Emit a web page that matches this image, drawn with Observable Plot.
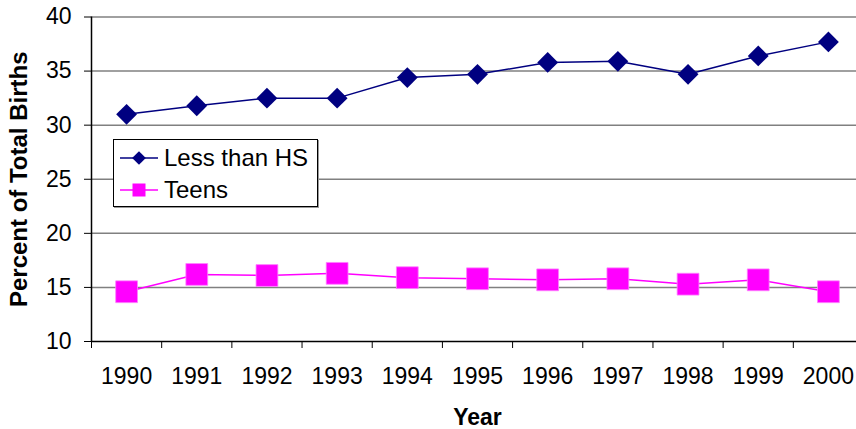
<!DOCTYPE html>
<html>
<head>
<meta charset="utf-8">
<script src="https://cdn.jsdelivr.net/npm/d3@7"></script>
<script src="https://cdn.jsdelivr.net/npm/@observablehq/plot@0.6"></script>
<style>
  html, body { margin: 0; padding: 0; background: #fff; overflow: hidden; }
  #wrap { position: relative; width: 856px; height: 429px; overflow: hidden; }
  #chart svg { max-width: none !important; }
  #legend {
    position: absolute; left: 113px; top: 139px; width: 203px; height: 66px;
    border: 1px solid #000; background: #fff; box-shadow: 1px 1px 0 #999;
    font-family: "Liberation Sans", Arial, sans-serif; font-size: 24px; color: #000;
  }
  .row { display: flex; align-items: center; height: 32px; padding-left: 6px; }
  .row:first-child { margin-top: 2px; }
  .row svg { margin-right: 6px; }
</style>
</head>
<body>
<div id="wrap"><div id="chart"></div><div id="legend"></div></div>
<script>
const years = [1990, 1991, 1992, 1993, 1994, 1995, 1996, 1997, 1998, 1999, 2000];
const lessThanHS = [31.0, 31.8, 32.5, 32.5, 34.4, 34.7, 35.8, 35.9, 34.7, 36.4, 37.7];
const teens = [14.6, 16.2, 16.1, 16.3, 15.9, 15.8, 15.7, 15.8, 15.3, 15.7, 14.6];
const seriesNames = ["Less than HS", "Teens"];
const seriesColors = ["#000080", "#FF00FF"];
const seriesSymbols = ["diamond2", "square"];
const yTicks = [10, 15, 20, 25, 30, 35, 40];
const xEdges = years.map(y => y - 0.5).concat([years[years.length - 1] + 0.5]);

const data = [
  ...years.map((year, i) => ({year, value: lessThanHS[i], series: seriesNames[0]})),
  ...years.map((year, i) => ({year, value: teens[i], series: seriesNames[1]}))
];

const font = "Liberation Sans, Arial, sans-serif";

const chart = Plot.plot({
  width: 864,
  height: 429,
  marginLeft: 91,
  marginRight: 1,
  marginTop: 16.5,
  marginBottom: 88,
  style: {fontFamily: font, fontSize: "23px", color: "#000", background: "#fff", maxWidth: "none"},
  x: {type: "linear", domain: [xEdges[0], xEdges[xEdges.length - 1]]},
  y: {domain: [10, 40]},
  color: {domain: seriesNames, range: seriesColors},
  symbol: {domain: seriesNames, range: seriesSymbols},
  marks: [
    Plot.ruleY(yTicks.slice(1), {stroke: "#808080", strokeWidth: 1.5}),
    Plot.axisY(yTicks, {tickSize: 7, tickPadding: 13, tickFormat: d => String(d), label: null, fontSize: 23, stroke: "#000"}),
    Plot.axisX(xEdges, {tickSize: 7, tickFormat: () => "", label: null, stroke: "#000"}),
    Plot.axisX(years, {tickSize: 0, tickPadding: 26, tickFormat: d => String(d), label: null, fontSize: 23}),
    Plot.ruleY([10], {stroke: "#000", strokeWidth: 1.5}),
    Plot.ruleX([xEdges[0]], {stroke: "#000", strokeWidth: 1.5}),
    Plot.line(data, {x: "year", y: "value", z: "series", stroke: "series", strokeWidth: 1.5}),
    Plot.dot(data.filter(d => d.series === seriesNames[0]), {x: "year", y: "value", symbol: "series", fill: "series", r: 9.4, stroke: null}),
    Plot.dot(data.filter(d => d.series === seriesNames[1]), {x: "year", y: "value", symbol: "series", fill: "series", r: 12.3, stroke: "#ff80ff", strokeWidth: 0.8}),
    Plot.text(["Year"], {frameAnchor: "bottom", dy: 76, fontWeight: "bold", fontSize: 23, lineAnchor: "middle", textAnchor: "middle"}),
    Plot.text(["Percent of Total Births"], {frameAnchor: "left", dx: -72, rotate: -90, fontWeight: "bold", fontSize: 24, lineAnchor: "middle", textAnchor: "middle"})
  ]
});
chart.style.maxWidth = "none";
document.getElementById("chart").appendChild(chart);

// Legend
const legend = document.getElementById("legend");
seriesNames.forEach((name, i) => {
  const row = document.createElement("div");
  row.className = "row";
  const svgNS = "http://www.w3.org/2000/svg";
  const svg = document.createElementNS(svgNS, "svg");
  svg.setAttribute("width", 38);
  svg.setAttribute("height", 20);
  const line = document.createElementNS(svgNS, "line");
  line.setAttribute("x1", 0); line.setAttribute("x2", 38);
  line.setAttribute("y1", 10); line.setAttribute("y2", 10);
  line.setAttribute("stroke", seriesColors[i]); line.setAttribute("stroke-width", 1.5);
  svg.appendChild(line);
  const sym = document.createElementNS(svgNS, "path");
  const s = seriesSymbols[i] === "square" ? d3.symbolSquare : d3.symbolDiamond2;
  sym.setAttribute("d", d3.symbol(s, seriesSymbols[i] === "square" ? 169 : 120)());
  sym.setAttribute("transform", "translate(19,10)");
  sym.setAttribute("fill", seriesColors[i]);
  svg.appendChild(sym);
  row.appendChild(svg);
  const label = document.createElement("span");
  label.textContent = name;
  row.appendChild(label);
  legend.appendChild(row);
});
</script>
</body>
</html>
